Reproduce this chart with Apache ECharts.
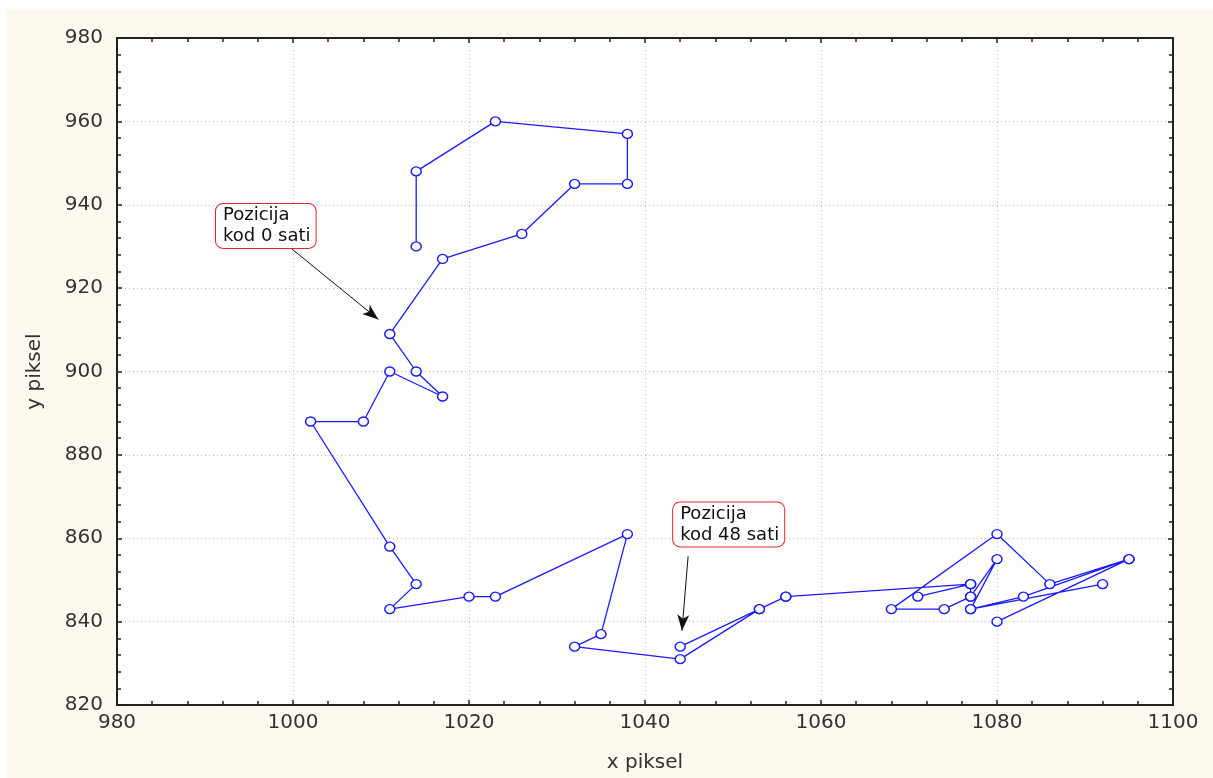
<!DOCTYPE html>
<html>
<head>
<meta charset="utf-8">
<title>Putanja objekta</title>
<script src="https://cdn.jsdelivr.net/npm/echarts@6/dist/echarts.min.js"></script>
<style>
  html, body { margin: 0; padding: 0; background: #ffffff; }
  #chart { width: 1213px; height: 778px; }
</style>
</head>
<body>
<div id="chart"></div>
<script>
// Tracked position (pixel coordinates) in the order they were recorded
const xPiksel = [1014, 1014, 1023, 1038, 1038, 1032, 1026, 1017, 1011, 1014, 1017, 1011, 1008, 1002,
                 1011, 1014, 1011, 1020, 1023, 1038, 1035, 1032, 1044, 1053, 1056,
                 1077, 1071, 1077, 1077, 1080, 1077, 1092, 1077, 1083, 1095, 1080, 1095,
                 1086, 1080, 1068, 1074, 1077, 1077, 1056, 1053, 1044];
const yPiksel = [930, 948, 960, 957, 945, 945, 933, 927, 909, 900, 894, 900, 888, 888,
                 858, 849, 843, 846, 846, 861, 837, 834, 831, 843, 846,
                 849, 846, 849, 846, 855, 843, 849, 843, 846, 855, 840, 855,
                 849, 861, 843, 843, 846, 849, 846, 843, 834];

// Axis ranges and tick spacing
const xRange = [980, 1100];
const yRange = [820, 980];
const tickStep = 20;

// Callouts: text, box top-left corner and arrow start/end (data units)
const callouts = [
  { text: 'Pozicija\nkod 0 sati', box: [991.25, 940.2], from: [999.7, 929.7], to: [1009.7, 912.5] },
  { text: 'Pozicija\nkod 48 sati', box: [1043.2, 868.6], from: [1044.9, 855.7], to: [1044.2, 837.8] }
];

const points = xPiksel.map((x, i) => [x, yPiksel[i]]);

const chart = echarts.init(document.getElementById('chart'), null, { renderer: 'canvas' });

const FONT = 'DejaVu Sans, Verdana, sans-serif';
const labelFont = { fontFamily: FONT, fontSize: 20, color: '#333333' };
const tickCommon = { show: true, inside: true, length: 5, lineStyle: { color: '#222', width: 1.5 } };
const minorCommon = { show: true, splitNumber: 5, length: 4, lineStyle: { color: '#222', width: 1.5 } };
const lineCommon = { show: true, onZero: false, lineStyle: { color: '#222', width: 2 } };
const splitCommon = { show: true, lineStyle: { color: '#bdbdbd', width: 1, type: [1, 3] } };
const plainNumber = v => String(v);

chart.setOption({
  animation: false,
  backgroundColor: '#ffffff',
  graphic: [
    { type: 'rect', z: -10, shape: { x: 6, y: 9, width: 1207, height: 769 }, style: { fill: '#fdf9ef' } },
    { type: 'rect', z: -9, shape: { x: 117, y: 38, width: 1056, height: 668 }, style: { fill: '#ffffff' } }
  ],
  grid: { left: 117, top: 38, right: 40, bottom: 72, containLabel: false },
  xAxis: [
    {
      type: 'value', min: xRange[0], max: xRange[1], interval: tickStep,
      name: 'x piksel', nameLocation: 'middle', nameGap: 48,
      nameTextStyle: { ...labelFont, fontSize: 20 },
      axisLine: lineCommon, axisTick: tickCommon, minorTick: minorCommon,
      axisLabel: { ...labelFont, margin: 8, formatter: plainNumber },
      splitLine: splitCommon
    },
    {
      type: 'value', position: 'top', min: xRange[0], max: xRange[1], interval: tickStep,
      axisLine: lineCommon, axisTick: tickCommon, minorTick: minorCommon,
      axisLabel: { show: false }, splitLine: { show: false }
    }
  ],
  yAxis: [
    {
      type: 'value', min: yRange[0], max: yRange[1], interval: tickStep,
      name: 'y piksel', nameLocation: 'middle', nameGap: 72, nameRotate: 90,
      nameTextStyle: { ...labelFont, fontSize: 20 },
      axisLine: lineCommon, axisTick: tickCommon, minorTick: minorCommon,
      axisLabel: { ...labelFont, margin: 14, formatter: plainNumber },
      splitLine: splitCommon
    },
    {
      type: 'value', position: 'right', min: yRange[0], max: yRange[1], interval: tickStep,
      axisLine: lineCommon, axisTick: tickCommon, minorTick: minorCommon,
      axisLabel: { show: false }, splitLine: { show: false }
    }
  ],
  series: [
    {
      type: 'line',
      data: points,
      showAllSymbol: true,
      symbol: 'circle',
      symbolSize: [10, 9],
      lineStyle: { color: '#1a1aff', width: 1.3 },
      itemStyle: { color: '#ffffff', borderColor: '#1a1aff', borderWidth: 1.4 },
      z: 3,
      markLine: {
        silent: true,
        symbol: ['none', 'arrow'],
        symbolSize: [9, 16],
        lineStyle: { color: '#111', width: 1, type: 'solid' },
        label: { show: false },
        data: callouts.map(c => [{ coord: c.from }, { coord: c.to }])
      },
      markPoint: {
        silent: true,
        symbol: 'rect',
        symbolSize: 0,
        data: callouts.map(c => ({
          coord: c.box,
          label: {
            show: true,
            position: 'inside',
            formatter: c.text,
            align: 'left',
            verticalAlign: 'top',
            fontFamily: FONT,
            fontSize: 18,
            lineHeight: 21,
            color: '#111',
            backgroundColor: '#ffffff',
            borderColor: '#e8242a',
            borderWidth: 1,
            borderRadius: 7,
            padding: [1, 5, 1, 7]
          }
        }))
      }
    }
  ]
});
</script>
</body>
</html>
